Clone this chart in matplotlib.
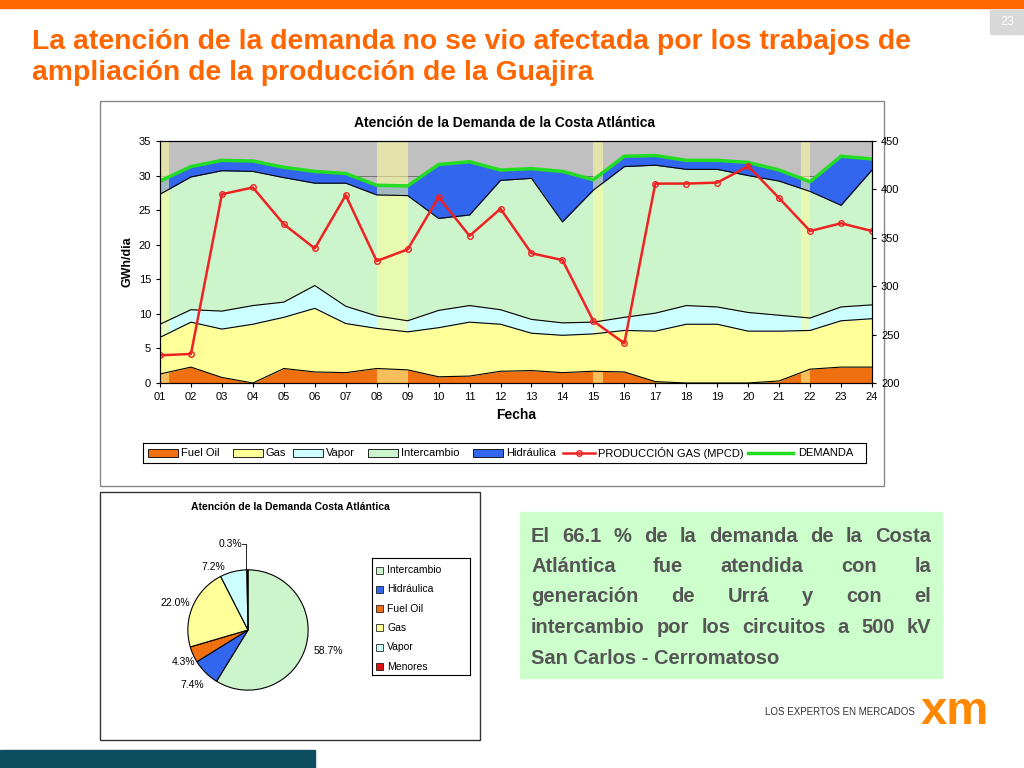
import numpy as np
import matplotlib.pyplot as plt
from matplotlib.patches import Rectangle
plt.rcParams["font.family"] = "Liberation Sans"

days = ["01","02","03","04","05","06","07","08","09","10","11","12","13","14","15","16","17","18","19","20","21","22","23","24"]
fuel_cum = [1.3,2.3,0.8,0.0,2.1,1.6,1.5,2.1,1.9,0.9,1.0,1.7,1.8,1.5,1.7,1.6,0.2,0.0,0.0,0.0,0.3,2.0,2.3,2.3]
gas_cum = [6.6,8.8,7.8,8.5,9.5,10.8,8.6,7.9,7.4,8.0,8.8,8.5,7.2,6.9,7.1,7.6,7.5,8.5,8.5,7.5,7.5,7.6,9.0,9.3]
vapor_cum = [8.5,10.6,10.4,11.2,11.7,14.1,11.1,9.7,9.0,10.5,11.2,10.6,9.2,8.7,8.8,9.5,10.1,11.2,11.0,10.2,9.8,9.4,11.0,11.3]
inter_cum = [27.3,29.8,30.7,30.6,29.7,28.9,28.9,27.2,27.1,23.8,24.3,29.3,29.6,23.3,27.9,31.3,31.5,30.9,30.9,30.0,29.2,27.7,25.7,30.8]
demanda = [29.2,31.3,32.2,32.1,31.2,30.6,30.3,28.6,28.5,31.6,32.0,30.8,31.0,30.6,29.4,32.8,32.9,32.2,32.2,31.9,30.8,29.1,32.8,32.4]
prod_gas = [228.6,230,395,402,364,339,394,326,338,392,352,380,334,327,264,241,406,406,407,424,391,357,365,357]

pie_labels = ["Intercambio","Hidráulica","Fuel Oil","Gas","Vapor","Menores"]
pie_vals = [58.7,7.4,4.3,22.0,7.2,0.3]
pie_colors = ["#ccf5cc","#3366ee","#f07010","#ffff99","#ccffff","#dd1111"]

W, H = 1024, 768
fig = plt.figure(figsize=(10.24,7.68), dpi=100)
fig.patch.set_facecolor("white")
def box(x,y,w,h): return [x/W, 1-(y+h)/H, w/W, h/H]

bg = fig.add_axes([0,0,1,1]); bg.set_xlim(0,W); bg.set_ylim(H,0); bg.axis("off")
bg.add_patch(Rectangle((0,0),W,8,color="#ff6600"))
bg.add_patch(Rectangle((990,10),34,24,color="#d8d8d8"))
bg.text(1007,22,"23",ha="center",va="center",fontsize=9,color="white")
bg.text(32,42,"La atención de la demanda no se vio afectada por los trabajos de",fontsize=20.4,fontweight="bold",color="#ff6600",va="center")
bg.text(32,73,"ampliación de la producción de la Guajira",fontsize=20.4,fontweight="bold",color="#ff6600",va="center")
bg.add_patch(Rectangle((100,101),784,385,fill=False,ec="#888888",lw=1))
bg.add_patch(Rectangle((100,492),380,248,fill=False,ec="#333333",lw=1))
bg.add_patch(Rectangle((520,512),422,166,color="#ccffcc"))
txt = ["El 66.1 % de la demanda de la Costa","Atlántica fue atendida con la","generación de Urrá y con el","intercambio por los circuitos a 500 kV","San Carlos - Cerromatoso"]
r = fig.canvas.get_renderer()
for i,t in enumerate(txt):
    y = 536+i*30.5
    if i == 4:
        bg.text(531,y,t,fontsize=14.5,fontweight="bold",color="#555555",va="center")
        continue
    words = t.split()
    objs = [bg.text(0,y,w,fontsize=14.5,fontweight="bold",color="#555555",va="center") for w in words]
    ws = [o.get_window_extent(r).width for o in objs]
    gap = (931-531-sum(ws))/(len(words)-1)
    px = 531
    for o,w in zip(objs,ws):
        o.set_x(px); px += w+gap
bg.add_patch(Rectangle((0,750),315,18,color="#0d4d5e"))
bg.text(765,712,"LOS EXPERTOS EN MERCADOS",fontsize=7,color="#333333",va="center")
bg.text(955,712,"xm",fontsize=34,fontweight="bold",color="#ff8800",va="center",ha="center")
bg.text(505,123,"Atención de la Demanda de la Costa Atlántica",fontsize=10,fontweight="bold",ha="center",va="center")

ax = fig.add_axes(box(160,141,712,242))
x = np.arange(len(days))
ax.set_facecolor("#c0c0c0")
z = np.zeros(len(days))
ax.fill_between(x,z,fuel_cum,color="#f07010",lw=0)
ax.fill_between(x,fuel_cum,gas_cum,color="#ffff99",lw=0)
ax.fill_between(x,gas_cum,vapor_cum,color="#ccffff",lw=0)
ax.fill_between(x,vapor_cum,inter_cum,color="#ccf5cc",lw=0)
ax.fill_between(x,inter_cum,demanda,color="#3366ee",lw=0)
for s in (fuel_cum,gas_cum,vapor_cum,inter_cum):
    ax.plot(x,s,color="black",lw=0.8)
ax.plot(x,demanda,color="#22dd22",lw=2.5)
for a,b in [(0,0.3),(7,8),(14,14.3),(20.7,21)]:
    ax.axvspan(a,b,color="#ffff99",alpha=0.55,lw=0)
ax.axhline(30,color="#666666",lw=0.6,zorder=0.5)
ax.set_xlim(0,23); ax.set_ylim(0,35)
ax.set_xticks(x); ax.set_xticklabels(days,fontsize=8)
ax.set_yticks(range(0,36,5)); ax.tick_params(labelsize=8,length=3)
ax.set_ylabel("GWh/dia",fontsize=9,fontweight="bold")
ax.set_xlabel("Fecha",fontsize=10,fontweight="bold")
ax2 = ax.twinx()
ax2.plot(x,prod_gas,color="#ee2222",lw=1.8,marker="o",mfc="none",ms=4)
ax2.set_ylim(200,450); ax2.set_yticks(range(200,451,50)); ax2.tick_params(labelsize=8,length=3)

lax = fig.add_axes(box(143,443,723,20)); lax.set_xlim(0,723); lax.set_ylim(0,20)
lax.set_xticks([]); lax.set_yticks([])
items = [("Fuel Oil","#f07010",5),("Gas","#ffff99",90),("Vapor","#ccffff",150),("Intercambio","#ccf5cc",225),("Hidráulica","#3366ee",330)]
for n,c,px in items:
    lax.add_patch(Rectangle((px,6),30,8,fc=c,ec="black",lw=0.6))
    lax.text(px+33,10,n,fontsize=8,va="center")
lax.plot([420,452],[10,10],color="#ee2222",lw=1.8); lax.plot(436,10,"o",mfc="none",color="#ee2222",ms=4)
lax.text(455,10,"PRODUCCIÓN GAS (MPCD)",fontsize=8,va="center")
lax.plot([605,650],[10,10],color="#22dd22",lw=2.5)
lax.text(655,10,"DEMANDA",fontsize=8,va="center")

bg.text(290,507,"Atención de la Demanda Costa Atlántica",fontsize=7.5,fontweight="bold",ha="center",va="center")
pax = fig.add_axes(box(186,568,124,124))
pax.pie(pie_vals,colors=pie_colors,startangle=90,counterclock=False,radius=0.97,
        wedgeprops=dict(ec="black",lw=0.8))
pax.set_xlim(-1.0,1.0); pax.set_ylim(-1.0,1.0)
pax.set_aspect("equal")
for t,(px,py) in zip(["58.7%","7.4%","4.3%","22.0%","7.2%","0.3%"],[(328,651),(192,685),(184,662),(175,603),(213,567),(230,544)]):
    bg.text(px,py,t,fontsize=7.5,ha="center",va="center")
bg.plot([242,246,246],[544,544,570],color="black",lw=0.6)
lg = fig.add_axes(box(372,558,98,117)); lg.set_xlim(0,98); lg.set_ylim(117,0)
lg.set_xticks([]); lg.set_yticks([])
for i,(n,c) in enumerate(zip(pie_labels,pie_colors)):
    yy = 12+i*19.3
    lg.add_patch(Rectangle((4,yy-3.5),7,7,fc=c,ec="black",lw=0.5))
    lg.text(15,yy,n,fontsize=7.5,va="center")
fig.savefig("out.png",dpi=100)
